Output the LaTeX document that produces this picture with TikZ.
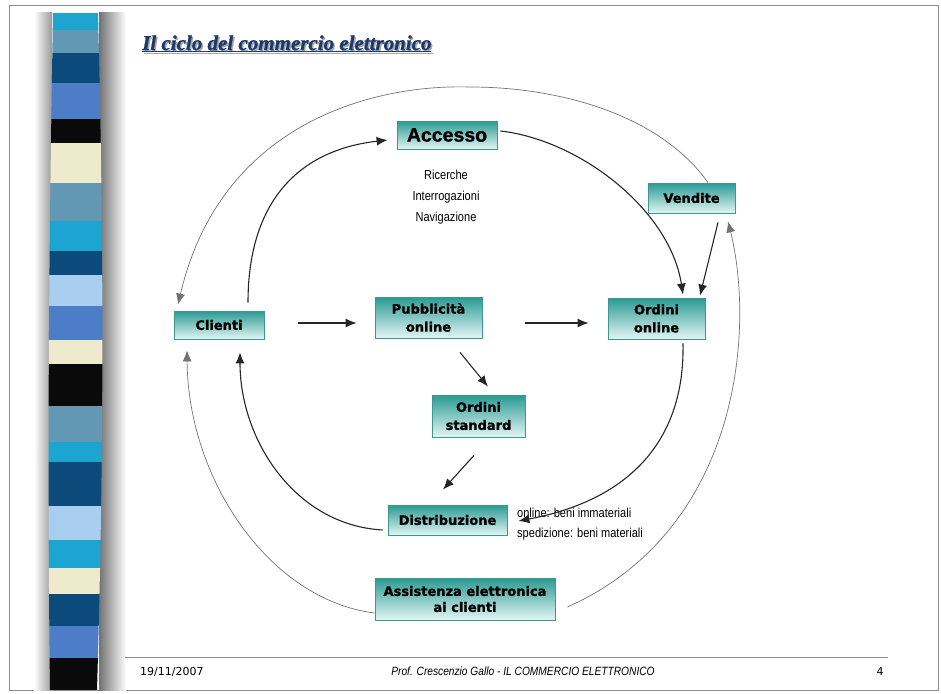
\documentclass[tikz,border=0pt]{standalone}
\usepackage{fontspec}
\usetikzlibrary{arrows.meta,calc}

\newfontfamily\boxfont[BoldFeatures={FakeBold=1.2}]{DejaVu Sans}
\newfontfamily\headfont[BoldFeatures={FakeBold=1}]{Liberation Sans}
\newfontfamily\titlefont[BoldItalicFeatures={FakeBold=1}]{Liberation Serif}
\newfontfamily\narrowfont[FakeStretch=0.85]{Liberation Sans}
\newfontfamily\footfont{DejaVu Sans}

\definecolor{boxtop}{HTML}{2A9A93}
\definecolor{boxbot}{HTML}{E2F5F4}
\definecolor{boxline}{HTML}{3A9893}
\definecolor{titleblue}{HTML}{1B3A6B}
\definecolor{cyanS}{HTML}{1DA5D2}
\definecolor{greyS}{HTML}{6398B4}
\definecolor{navyS}{HTML}{0D4A7C}
\definecolor{medS}{HTML}{4E7DC8}
\definecolor{blackS}{HTML}{0A0A0A}
\definecolor{creamS}{HTML}{EEEBCC}
\definecolor{lightS}{HTML}{A8CFEF}

\tikzset{
  stage/.style={draw=boxline, line width=0.8pt, top color=boxtop, bottom color=boxbot,
    inner sep=0pt, align=center, font=\boxfont\bfseries\fontsize{13}{18}\selectfont},
  note/.style={inner sep=0pt, font=\narrowfont\fontsize{13}{21}\selectfont},
  flow/.style={->, line width=1.1pt, draw=black!85},
  feedback/.style={->, line width=0.7pt, draw=black!55},
}

\begin{document}
\begin{tikzpicture}[x=1pt, y=-1pt, >={Latex[length=11pt,width=9pt]}]
  \useasboundingbox (0,0) rectangle (941,693);
  \draw[black!45, line width=0.8pt] (9,5) rectangle (938,690);

  % striped bar on the left
  \shade[left color=white, right color=black!40] (34,13) rectangle (52,690);
  \shade[left color=black!55, right color=white] (99,13) rectangle (126,690);
  \begin{scope}
    \clip (53,13) .. controls (49,250) and (47,450) .. (50,690) -- (97,690)
          .. controls (104,450) and (104,250) .. (98,13) -- cycle;
    \foreach \ya/\yb/\col in {13/30/cyanS, 30/53/greyS, 53/83/navyS, 83/119/medS,
        119/143/blackS, 143/183/creamS, 183/221/greyS, 221/251/cyanS, 251/275/navyS,
        275/306/lightS, 306/340/medS, 340/364/creamS, 364/406/blackS, 406/442/greyS,
        442/462/cyanS, 462/506/navyS, 506/540/lightS, 540/568/cyanS, 568/594/creamS,
        594/626/navyS, 626/658/medS, 658/690/blackS}
      \fill[\col] (40,\ya) rectangle (110,\yb);
  \end{scope}

  % title
  \node[anchor=base west, inner sep=0pt, text=black!35, font=\titlefont\bfseries\itshape\fontsize{21}{24}\selectfont]
    at (143.5,51.5) {\underline{Il ciclo del commercio elettronico}};
  \node (title) [anchor=base west, inner sep=0pt, text=titleblue, font=\titlefont\bfseries\itshape\fontsize{21}{24}\selectfont]
    at (142,50) {\underline{Il ciclo del commercio elettronico}};

  % stages
  \node[stage, minimum width=100pt, minimum height=28pt, font=\headfont\bfseries\fontsize{19.5}{22}\selectfont]
    (accesso) at (447,135) {Accesso};
  \node[stage, minimum width=87pt, minimum height=30pt] (vendite) at (691.5,198) {Vendite};
  \node[stage, minimum width=90pt, minimum height=28pt] (clienti) at (219,325) {Clienti};
  \node[stage, minimum width=107pt, minimum height=41pt] (pubbl) at (428.5,317.5) {Pubblicità\\online};
  \node[stage, minimum width=97pt, minimum height=41pt] (ordon) at (656.5,318.5) {Ordini\\online};
  \node[stage, minimum width=93pt, minimum height=42pt] (ordst) at (478.5,416) {Ordini\\standard};
  \node[stage, minimum width=119pt, minimum height=30pt] (distr) at (447.5,520) {Distribuzione};
  \node[stage, minimum width=180pt, minimum height=42pt, font=\boxfont\bfseries\fontsize{13}{16}\selectfont]
    (assist) at (465,599) {Assistenza elettronica\\ai clienti};

  \node[note, align=center] (ricerche) at (446,197) {Ricerche\\Interrogazioni\\Navigazione};
  \node[note, align=left, anchor=north west, font=\narrowfont\fontsize{13}{20}\selectfont]
    (spediz) at (517,508) {online: beni immateriali\\spedizione: beni materiali};

  % straight arrows
  \draw[flow] ($(clienti.east)+(34,-2)$) -- ($(pubbl.west)+(-18,5.5)$);
  \draw[flow] ($(pubbl.east)+(43,5.5)$) -- ($(ordon.west)+(-19,4.5)$);
  \draw[flow] ($(pubbl.south)+(31.5,14)$) -- ($(ordst.north)+(9.5,-8)$);
  \draw[flow] ($(ordst.south)+(-4.5,18)$) -- ($(distr.north)+(-4.5,-15)$);
  \draw[flow] ($(vendite.south)+(26.5,9)$) -- ($(ordon.north)+(43.5,-2)$);

  % inner cycle
  \draw[flow] ($(clienti.north)+(29,-8)$) .. controls (248,200) and (300,150) .. ($(accesso.west)+(-9,5)$);
  \draw[flow] ($(accesso.east)+(3,-4)$) .. controls (580,140) and (670,210) .. ($(ordon.north)+(26.5,-3)$);
  \draw[flow] ($(ordon.south)+(26.5,4)$) .. controls (685,440) and (630,500) .. ($(distr.east)+(11,1)$);
  \draw[flow] ($(distr.west)+(-5,10)$) .. controls (295,525) and (240,440) .. ($(clienti.south)+(21,13)$);

  % outer cycle
  \coordinate (arctop) at (470,87);
  \draw[feedback] ($(vendite.north)+(16.5,0)$) .. controls (660,115) and (560,87) .. (arctop)
    .. controls (370,84) and (220,125) .. ($(clienti.north)+(-41,-6)$);
  \draw[feedback] ($(assist.west)+(0,14)$) .. controls (270,600) and (188,480) .. ($(clienti.south)+(-32,11)$);
  \draw[feedback] ($(assist.east)+(12,8)$) .. controls (740,530) and (755,330) .. ($(vendite.south)+(36.5,8)$);

  % footer
  \draw[black!45, line width=0.8pt] (125,657) -- (888,657);
  \node[anchor=base west, inner sep=0pt, font=\footfont\fontsize{11}{13}\selectfont] (data) at (140,675) {19/11/2007};
  \node[anchor=base, inner sep=0pt, font=\narrowfont\itshape\fontsize{12}{13}\selectfont] (autore) at (523,675)
    {Prof. Crescenzio Gallo - IL COMMERCIO ELETTRONICO};
  \node[anchor=base, inner sep=0pt, font=\footfont\fontsize{11}{13}\selectfont] (pagina) at (880,675) {4};
\end{tikzpicture}
\end{document}
